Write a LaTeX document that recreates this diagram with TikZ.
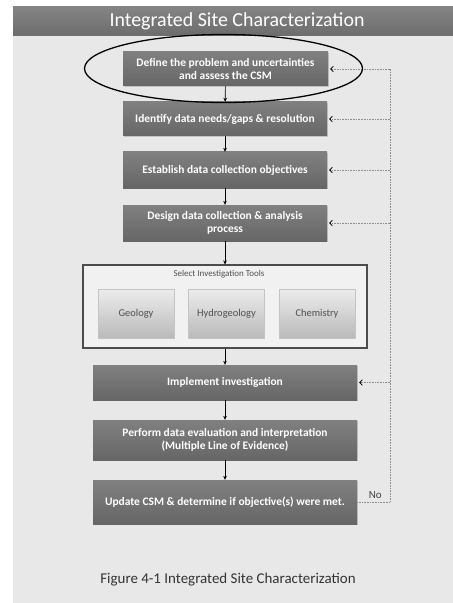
\documentclass[tikz,border=0pt]{standalone}
\usepackage{fontspec}
\setmainfont{Carlito}
\usepackage{tikz}
\usetikzlibrary{arrows.meta, positioning, calc, shadows}
\definecolor{panelgray}{RGB}{232,232,232}
\definecolor{hdrtop}{RGB}{132,132,132}
\definecolor{hdrbot}{RGB}{108,108,108}
\definecolor{boxtop}{RGB}{128,128,128}
\definecolor{boxbot}{RGB}{102,102,102}
\definecolor{tooltop}{RGB}{236,236,236}
\definecolor{toolbot}{RGB}{186,186,186}
\definecolor{tooledge}{RGB}{196,196,196}
\definecolor{tooltext}{RGB}{80,80,80}
\definecolor{railgray}{RGB}{140,140,140}
\tikzset{
  procbox/.style={rectangle, top color=boxtop, bottom color=boxbot,
    text=white, align=center, inner sep=0pt,
    font=\bfseries\fontsize{11.5}{13}\selectfont,
    drop shadow={shadow xshift=0.8pt, shadow yshift=-0.8pt, opacity=0.35}},
  toolbox/.style={rectangle, draw=tooledge, top color=tooltop, bottom color=toolbot,
    text=tooltext, minimum width=76bp, minimum height=49bp,
    font=\fontsize{10.5}{12}\selectfont, line width=0.6pt},
  flow/.style={-{Stealth[length=4pt, width=3.6pt]}, line width=0.6pt, color=black},
  rail/.style={densely dotted, line width=0.6pt, color=railgray},
  railarrow/.style={rail, -{Straight Barb[length=2.6pt, width=5.5pt, line width=0.8pt]}, color=railgray, arrows={[color=black]}}
}
\begin{document}
\begin{tikzpicture}[x=1bp, y=-1bp]
  \useasboundingbox (0,0) rectangle (453,603);
  % Panel and header
  \fill[panelgray] (13,7) rectangle (453,603);
  \shade[top color=hdrtop, bottom color=hdrbot] (13,7) rectangle (453,36);
  \node[text=white, font=\fontsize{20}{22}\selectfont] (title) at (237,21.5) {Integrated Site Characterization};

  % Process steps
  \node[procbox, minimum width=205bp, minimum height=34bp] (define) at (225.5,69) {Define the problem and uncertainties\\and assess the CSM};
  \node[procbox, minimum width=204bp, minimum height=34bp] (needs) at (225,119) {Identify data needs/gaps \& resolution};
  \node[procbox, minimum width=204bp, minimum height=36bp] (objectives) at (225,170) {Establish data collection objectives};
  \node[procbox, minimum width=204bp, minimum height=36bp] (design) at (225,223) {Design data collection \& analysis\\process};

  % Investigation tools
  \node[rectangle, draw=black!70, fill=panelgray!60!white, line width=1.1pt,
    minimum width=284bp, minimum height=83bp] (tools) at (225,306.5) {};
  \node[text=tooltext, font=\fontsize{9}{10}\selectfont] (toolstitle) at (219,274) {Select Investigation Tools};
  \node[toolbox] (geology) at (136,313.5) {Geology};
  \node[toolbox] (hydro) at (226.5,313.5) {Hydrogeology};
  \node[toolbox] (chem) at (317,313.5) {Chemistry};

  \node[procbox, minimum width=264bp, minimum height=35bp] (implement) at (225,382.5) {Implement investigation};
  \node[procbox, minimum width=264bp, minimum height=40bp] (evaluate) at (225,440) {Perform data evaluation and interpretation\\(Multiple Line of Evidence)};
  \node[procbox, minimum width=264bp, minimum height=44bp] (update) at (225,502) {Update CSM \& determine if objective(s) were met.};

  % Caption
  \node[text=black!80, font=\fontsize{15}{17}\selectfont] (caption) at (228,580) {Figure 4-1 Integrated Site Characterization};

  % Main flow
  \draw[flow] (define) -- (needs);
  \draw[flow] (needs) -- (objectives);
  \draw[flow] (objectives) -- (design);
  \draw[flow] (design) -- (tools);
  \draw[flow] (tools) -- (implement);
  \draw[flow] (implement) -- (evaluate);
  \draw[flow] (evaluate) -- (update);

  % Feedback rail
  \coordinate (railx) at (390,0);
  \draw[rail] (update.east) -- (update.east -| railx) node[pos=0.55, above, text=black!75, font=\fontsize{11}{12}\selectfont] {No}
    -- (define.east -| railx);
  \foreach \target in {define, needs, objectives, design, implement}
    \draw[railarrow] (\target.east -| railx) -- ($(\target.east)+(2,0)$);

  % Highlight ring
  \draw[line width=1.3pt] ($(define)+(-2,-0.5)$) ellipse [x radius=139, y radius=34];
\end{tikzpicture}
\end{document}
